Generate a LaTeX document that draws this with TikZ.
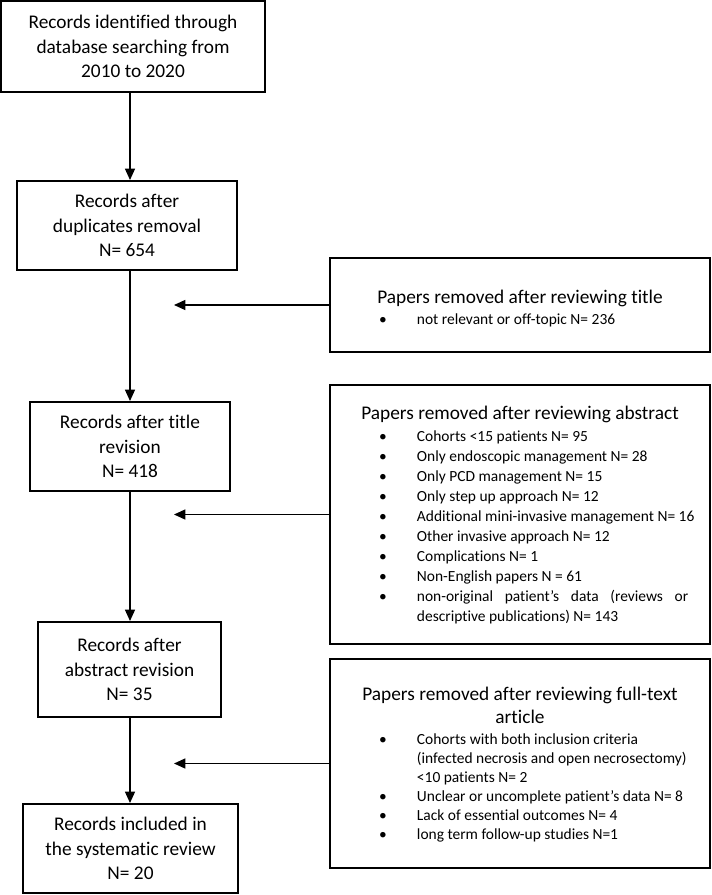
\documentclass[tikz,border=0pt]{standalone}
\usepackage{fontspec}
\setmainfont{Carlito}[Ligatures=NoCommon]
\usetikzlibrary{arrows.meta}
\newcommand\bl[1]{\hbox{\llap{\textbullet\hskip 22.6pt}#1}}
\newcommand\cl[1]{\hbox{#1}}
\begin{document}
\begin{tikzpicture}[x=0.75pt,y=-0.75pt,
  box/.style={draw, line width=1.5pt, inner sep=0pt, align=center, font=\fontsize{14.5}{18.2}\selectfont},
  wh/.style 2 args={minimum width=#1*0.75pt, minimum height=#2*0.75pt},
  arr/.style={line width=1pt, -{Triangle[length=8.5pt,width=7.5pt]}},
  head/.style={font=\fontsize{14.5}{17.6}\selectfont, inner sep=0pt, anchor=base},
  list/.style={font=\fontsize{11.6}{15.075}\selectfont, inner sep=0pt, anchor=base west}]
\useasboundingbox (0,0) rectangle (711,895);
% left column
\node[box, wh={264}{91}] (b1) at (133,46.5) {Records identified through\\database searching from\\2010 to 2020};
\node[box, wh={220}{89}] (b2) at (127,225.5) {Records after\\duplicates removal\\N= 654};
\node[box, wh={200}{89}] (b3) at (130,446.5) {Records after title\\revision\\N= 418};
\node[box, wh={183}{95}] (b4) at (129.5,669.5) {Records after\\abstract revision\\N= 35};
\node[box, wh={215}{89}] (b5) at (130.5,848.5) {Records included in\\the systematic review\\N= 20};
% right column
\node[box, wh={380}{94}] (rA) at (520,305) {};
\node[box, wh={380}{259}] (rB) at (520,514.5) {};
\node[box, wh={380}{209}] (rC) at (520,763.5) {};
\node[head] (hA) at (520,303.3) {Papers removed after reviewing title};
\node[head] (hB) at (520,419.5) {Papers removed after reviewing abstract};
\node[head] (hC) at (520,700) {\vtop{\hbox to 0pt{\hss Papers removed after reviewing full-text\hss}\hbox to 0pt{\hss article\hss}}};
\node[list] (lA) at (416.7,324.3) {\vtop{\bl{not relevant or off-topic N= 236}}};
\node[list] (lB) at (416.7,441) {\vtop{%
  \bl{Cohorts <15 patients N= 95}
  \bl{Only endoscopic management N= 28}
  \bl{Only PCD management N= 15}
  \bl{Only step up approach N= 12}
  \bl{Additional mini-invasive management N= 16}
  \bl{Other invasive approach N= 12}
  \bl{Complications N= 1}
  \bl{Non-English papers N = 61}
  \bl{\makebox[203.5pt][s]{non-original patient’s data (reviews or}}
  \cl{descriptive publications) N= 143}}};
\node[list, font=\fontsize{11.6}{14.175}\selectfont] (lC) at (416.7,744.5) {\vtop{%
  \bl{Cohorts with both inclusion criteria}
  \cl{(infected necrosis and open necrosectomy)}
  \cl{<10 patients N= 2}
  \bl{Unclear or uncomplete patient’s data N= 8}
  \bl{Lack of essential outcomes N= 4}
  \bl{long term follow-up studies N=1}}};
% connectors
\coordinate (tip) at (174,0);
\draw[arr] (b1.south -| b3.north) -- (b2.north -| b3.north);
\draw[arr] (b2.south -| b3.north) -- (b3.north);
\draw[arr] (b3.south) -- (b4.north -| b3.south);
\draw[arr] (b4.south -| b3.south) -- (b5.north -| b3.south);
\draw[arr] (rA.west) -- (rA.west -| tip);
\draw[arr] (rB.west) -- (rB.west -| tip);
\draw[arr] (rC.west) -- (rC.west -| tip);
\end{tikzpicture}
\end{document}
